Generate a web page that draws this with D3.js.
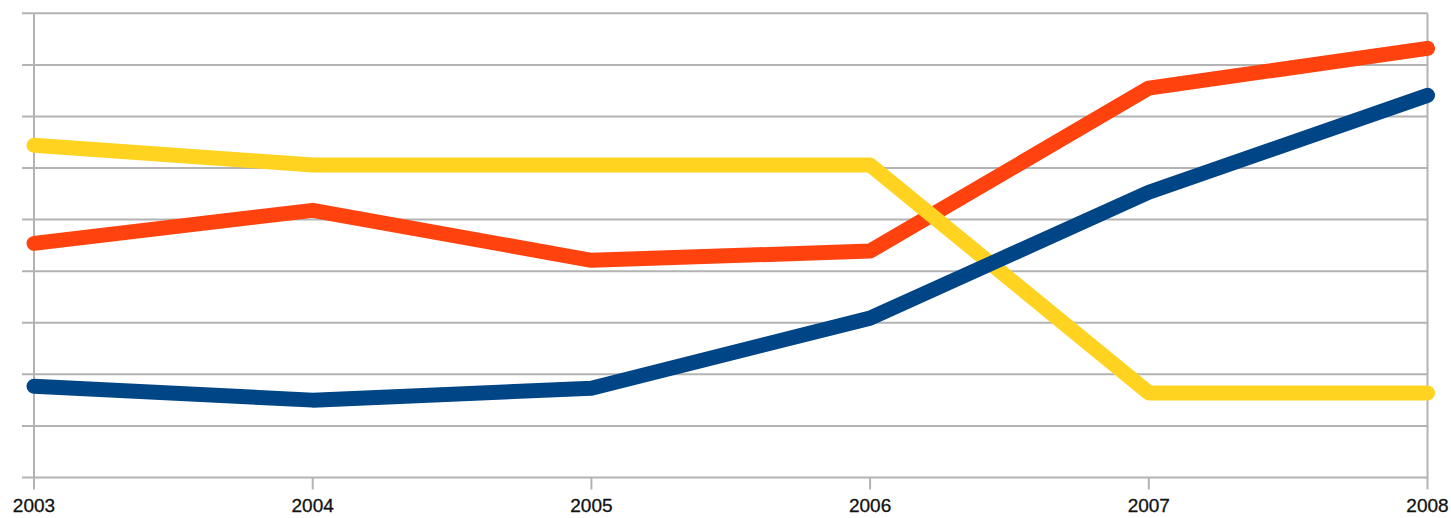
<!DOCTYPE html>
<html><head><meta charset="utf-8">
<script src="https://cdn.jsdelivr.net/npm/d3@7"></script>
<style>body{margin:0;background:#fff;}svg{display:block;}</style>
</head><body>
<svg id="c" width="1451" height="518"></svg>
<script>
const years = ["2003","2004","2005","2006","2007","2008"];
const redValues    = [4.54, 5.18, 4.21, 4.39, 7.55, 8.32];
const yellowValues = [6.44, 6.06, 6.06, 6.06, 1.64, 1.64];
const blueValues   = [1.77, 1.50, 1.73, 3.09, 5.53, 7.41];
const yTicks = [0,1,2,3,4,5,6,7,8,9];

(function(){
const svg = d3.select("#c");
const pLeft = 34, pRight = 1427.5, pTop = 13.3, pBottom = 477.5;
const x = d3.scalePoint().domain(years).range([pLeft, pRight]);
const y = d3.scaleLinear().domain([0, 9]).range([pBottom, pTop]);

// gridlines
svg.append("g").selectAll("line").data(yTicks).join("line")
  .attr("x1", pLeft - 12).attr("x2", pRight)
  .attr("y1", d => y(d)).attr("y2", d => y(d))
  .attr("stroke", "#b3b3b3").attr("stroke-width", 2);

// axes lines
svg.append("line").attr("x1", pLeft).attr("x2", pLeft).attr("y1", pTop).attr("y2", pBottom + 12)
  .attr("stroke", "#b3b3b3").attr("stroke-width", 2);
svg.append("line").attr("x1", pRight).attr("x2", pRight).attr("y1", pTop).attr("y2", pBottom + 12)
  .attr("stroke", "#b3b3b3").attr("stroke-width", 2);
svg.append("g").selectAll("line").data(years.slice(1, -1)).join("line")
  .attr("x1", d => x(d)).attr("x2", d => x(d)).attr("y1", pBottom).attr("y2", pBottom + 12)
  .attr("stroke", "#b3b3b3").attr("stroke-width", 2);

// x labels
svg.append("g").selectAll("text").data(years).join("text")
  .attr("x", d => x(d)).attr("y", 512)
  .attr("text-anchor", "middle")
  .attr("font-family", "Liberation Sans, Arial, sans-serif")
  .attr("font-size", 19).attr("fill", "#111")
  .attr("stroke", "#111").attr("stroke-width", 0.3)
  .text(d => d);

const line = d3.line().x((d, i) => x(years[i])).y(d => y(d));
const series = [
  {vals: redValues, color: "#FF420E"},
  {vals: yellowValues, color: "#FFD320"},
  {vals: blueValues, color: "#004586"}
];
svg.append("g").selectAll("path").data(series).join("path")
  .attr("d", d => line(d.vals))
  .attr("fill", "none").attr("stroke", d => d.color)
  .attr("stroke-width", 15).attr("stroke-linejoin", "round").attr("stroke-linecap", "round");
})();
</script>
</body></html>
